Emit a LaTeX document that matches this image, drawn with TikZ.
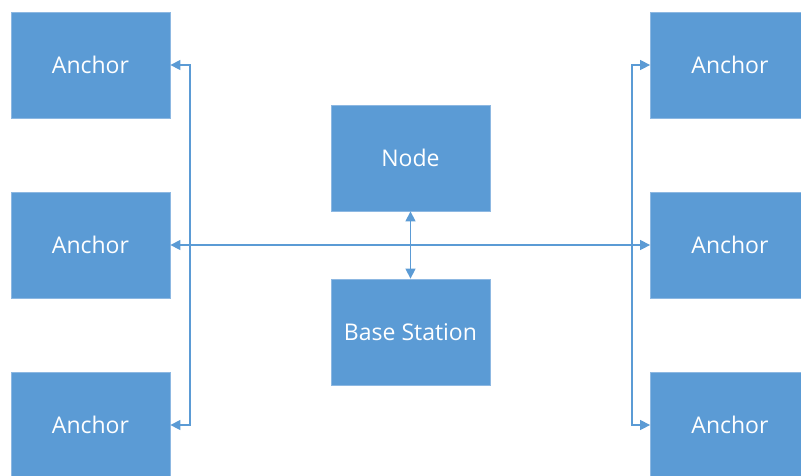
\documentclass[tikz,border=0pt]{standalone}
\usepackage{fontspec}
\setmainfont{Open Sans}
\usetikzlibrary{arrows.meta}
\definecolor{officeblue}{HTML}{5B9BD5}
\definecolor{edgeblue}{HTML}{8DB8E2}
\tikzset{
  box/.style={fill=officeblue, draw=edgeblue, line width=0.8pt, minimum width=159pt, minimum height=106pt, inner sep=0pt, text=white, font=\fontsize{23}{26}\selectfont},
  link/.style={draw=officeblue, line width=1.4pt, {Triangle[length=10pt,width=10pt]}-{Triangle[length=10pt,width=10pt]}}
}
\begin{document}
\begin{tikzpicture}[x=1pt,y=-1pt]
\useasboundingbox (0,0) rectangle (801,475);
\node[box] (L1) at (90.5,65) {Anchor};
\node[box] (L2) at (90.5,245) {Anchor};
\node[box] (L3) at (90.5,425) {Anchor};
\node[box] (R1) at (730,65) {Anchor};
\node[box] (R2) at (730,245) {Anchor};
\node[box] (R3) at (730,425) {Anchor};
\node[box] (N) at (410.5,158) {Node};
\node[box] (B) at (410.5,332) {Base Station};
\coordinate (lv) at (190,0);
\coordinate (rv) at (632,0);
\draw[link] (L1.east) -- (L1.east -| lv) -- (L3.east -| lv) -- (L3.east);
\draw[link] (R1.west) -- (R1.west -| rv) -- (R3.west -| rv) -- (R3.west);
\draw[link] (L2.east) -- (R2.west);
\draw[link] (N.south) -- (B.north);
\end{tikzpicture}
\end{document}
